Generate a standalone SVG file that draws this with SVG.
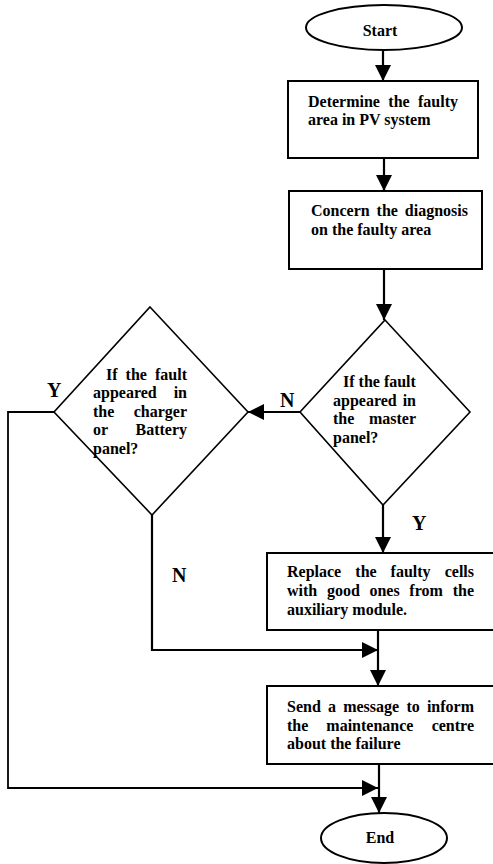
<svg xmlns="http://www.w3.org/2000/svg" width="493" height="864" viewBox="0 0 493 864">
<style>
  .shape { fill: #ffffff; stroke: #000000; stroke-width: 2; }
  .dia { fill: #ffffff; stroke: #000000; stroke-width: 1.6; }
  .t { font-family: "Liberation Serif", "Times New Roman", serif; font-weight: bold; font-size: 16px; fill: #000000; }
  .lbl { font-family: "Liberation Serif", "Times New Roman", serif; font-weight: bold; font-size: 20px; fill: #000000; }
  .c { fill: none; stroke: #000000; stroke-width: 2.2; }
  .thin { fill: none; stroke: #000000; stroke-width: 1.8; }
</style>
<defs>
  <marker id="ah" markerUnits="userSpaceOnUse" markerWidth="16" markerHeight="16" refX="15" refY="7.5" orient="auto" viewBox="0 0 15 15">
    <path d="M0,0 L15,7.5 L0,15 Z" fill="#000000"/>
  </marker>
</defs>
<rect width="493" height="864" fill="#ffffff"/>

<g id="connectors">
  <line class="c" x1="383" y1="50" x2="383" y2="81" marker-end="url(#ah)"/>
  <line class="c" x1="384" y1="158" x2="384" y2="191" marker-end="url(#ah)"/>
  <line class="c" x1="384" y1="269" x2="384" y2="320" marker-end="url(#ah)"/>
  <line class="c" x1="300" y1="412" x2="248" y2="412" marker-end="url(#ah)"/>
  <line class="c" x1="383" y1="505" x2="383" y2="553" marker-end="url(#ah)"/>
  <polyline class="thin" points="54,412 8,412 8,788 378,788" marker-end="url(#ah)"/>
  <polyline class="c" points="152,515 152,650 378,650" marker-end="url(#ah)"/>
  <line class="c" x1="378" y1="630" x2="378" y2="686" marker-end="url(#ah)"/>
  <line class="c" x1="379" y1="764" x2="379" y2="813" marker-end="url(#ah)"/>
  <text class="lbl" x="280" y="407">N</text>
  <text class="lbl" x="47" y="397">Y</text>
  <text class="lbl" x="412" y="530">Y</text>
  <text class="lbl" x="172" y="582">N</text>
</g>

<g id="start">
  <ellipse class="shape" cx="384" cy="27.5" rx="78" ry="22.5"/>
  <text class="t" x="380" y="36" text-anchor="middle">Start</text>
</g>

<g id="determine">
  <rect class="shape" x="288" y="81" width="190" height="77"/>
  <text class="t" y="107"><tspan x="308">Determine</tspan><tspan x="388.3">the</tspan></text>
  <text class="t" x="458" y="107" text-anchor="end">faulty</text>
  <text class="t" x="308" y="125">area in PV system</text>
</g>

<g id="concern">
  <rect class="shape" x="289" y="191" width="193" height="78"/>
  <text class="t" y="216"><tspan x="311">Concern</tspan><tspan x="376.6">the</tspan></text>
  <text class="t" x="468" y="216" text-anchor="end">diagnosis</text>
  <text class="t" x="311" y="235">on the faulty area</text>
</g>

<g id="master-decision">
  <polygon class="dia" points="385,320 470,412 383,505 300,412"/>
  <text class="t" x="343" y="387">If the fault</text>
  <text class="t" x="333" y="405.5">appeared</text>
  <text class="t" x="416" y="405.5" text-anchor="end">in</text>
  <text class="t" x="333" y="424">the</text>
  <text class="t" x="416" y="424" text-anchor="end">master</text>
  <text class="t" x="333" y="442.5">panel?</text>
</g>

<g id="charger-decision">
  <polygon class="dia" points="150,307 248,412 152,515 54,412"/>
  <text class="t" y="379.5"><tspan x="106">If</tspan><tspan x="125.6">the</tspan></text>
  <text class="t" x="187" y="379.5" text-anchor="end">fault</text>
  <text class="t" x="93" y="398">appeared</text>
  <text class="t" x="187" y="398" text-anchor="end">in</text>
  <text class="t" x="93" y="416.5">the</text>
  <text class="t" x="187" y="416.5" text-anchor="end">charger</text>
  <text class="t" x="93" y="435">or</text>
  <text class="t" x="187" y="435" text-anchor="end">Battery</text>
  <text class="t" x="93" y="453.5">panel?</text>
</g>

<g id="replace">
  <rect class="shape" x="267" y="553" width="240" height="77"/>
  <text class="t" y="577"><tspan x="287">Replace</tspan><tspan x="355.3">the</tspan><tspan x="390.6">faulty</tspan></text>
  <text class="t" x="474" y="577" text-anchor="end">cells</text>
  <text class="t" y="596"><tspan x="287">with</tspan><tspan x="326.9">good</tspan><tspan x="369.4">ones</tspan><tspan x="409.3">from</tspan></text>
  <text class="t" x="474" y="596" text-anchor="end">the</text>
  <text class="t" x="287" y="615">auxiliary module.</text>
</g>

<g id="send">
  <rect class="shape" x="267" y="686" width="240" height="78"/>
  <text class="t" y="712"><tspan x="287">Send</tspan><tspan x="328">a</tspan><tspan x="343.2">message</tspan><tspan x="406.4">to</tspan></text>
  <text class="t" x="474" y="712" text-anchor="end">inform</text>
  <text class="t" y="730.5"><tspan x="287">the</tspan><tspan x="326.3">maintenance</tspan></text>
  <text class="t" x="474" y="730.5" text-anchor="end">centre</text>
  <text class="t" x="287" y="749">about the failure</text>
</g>

<g id="end">
  <ellipse class="shape" cx="384" cy="838" rx="63" ry="25"/>
  <text class="t" x="380" y="843" text-anchor="middle">End</text>
</g>
</svg>
